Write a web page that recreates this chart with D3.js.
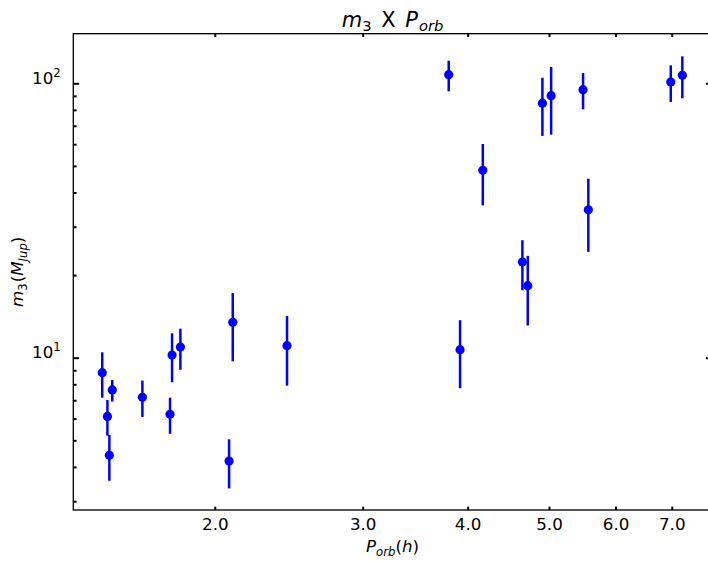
<!DOCTYPE html>
<html>
<head>
<meta charset="utf-8">
<script src="https://cdn.jsdelivr.net/npm/d3@7"></script>
<style>
  body { margin: 0; background: #fff; }
  text { font-family: "DejaVu Sans", sans-serif; fill: #000; }
</style>
</head>
<body>
<div id="chart"></div>
<script>
// orbital period (h) and third-body mass (M_Jup) with lower / upper error limits
const period   = [1.469, 1.510, 1.490, 1.498, 1.640, 1.779, 1.820, 1.769, 2.101, 2.080, 2.438,
                  3.798, 4.170, 4.910, 5.029, 5.489, 5.569, 4.648, 4.717, 3.918, 6.981, 7.206];
const mass     = [8.82, 7.63, 6.11, 4.41, 7.17, 10.23, 10.94, 6.22, 13.46, 4.20, 11.06,
                  107.5, 48.2, 84.6, 90.1, 94.8, 34.6, 22.3, 18.3, 10.7, 101.1, 106.9];
const massLow  = [7.15, 6.92, 5.20, 3.56, 6.08, 8.14, 9.04, 5.28, 9.70, 3.34, 7.91,
                  93.5, 35.9, 64.3, 65.0, 80.4, 24.3, 17.6, 13.1, 7.74, 85.5, 88.2];
const massHigh = [10.46, 8.29, 7.01, 5.23, 8.25, 12.27, 12.76, 7.15, 17.2, 5.04, 14.19,
                  120.9, 60.1, 104.8, 114.7, 109.0, 44.9, 26.8, 23.5, 13.7, 116.3, 125.4];

const xTicks = [2, 3, 4, 5, 6, 7];
const yMajor = [10, 100];
const yMinor = [3, 4, 5, 6, 7, 8, 9, 20, 30, 40, 50, 60, 70, 80, 90];
const xDomain = [1.357, 7.81];
const yDomain = [2.786, 151.6];

const width = 708, height = 561;
const margin = {top: 33.7, right: -3.7, bottom: 51, left: 73.3};
const fs = 16.7;

const x = d3.scaleLog().domain(xDomain).range([margin.left, width - margin.right]);
const y = d3.scaleLog().domain(yDomain).range([height - margin.bottom, margin.top]);

const svg = d3.select('#chart').append('svg')
    .attr('width', width)
    .attr('height', height);

// write a small piece of "math" text as tspans: {t, it, sub, sup, dx}
function mathText(sel, parts, size) {
    let prev = 0;
    parts.forEach(p => {
        const small = p.sub || p.sup;
        const shift = p.sub ? size * 0.22 : p.sup ? -size * 0.42 : 0;
        sel.append('tspan')
            .attr('font-style', p.it ? 'italic' : null)
            .attr('font-size', small ? size * 0.7 : size)
            .attr('dx', p.dx || null)
            .attr('dy', shift - prev)
            .text(p.t);
        prev = shift;
    });
}

// axes
const xb = svg.append('g')
    .attr('transform', `translate(0,${y.range()[0]})`)
    .call(d3.axisBottom(x).tickValues(xTicks).tickFormat(d3.format('.1f'))
        .tickSizeInner(-3.3).tickSizeOuter(0).tickPadding(8));
xb.selectAll('text').attr('font-size', fs).attr('font-family', null);

svg.append('g')
    .attr('transform', `translate(0,${y.range()[1]})`)
    .call(d3.axisTop(x).tickValues(xTicks).tickFormat('').tickSizeInner(-3.3).tickSizeOuter(0));

const yl = svg.append('g')
    .attr('transform', `translate(${x.range()[0]},0)`)
    .call(d3.axisLeft(y).tickValues(yMajor).tickFormat('').tickSizeInner(-5.8).tickSizeOuter(0).tickPadding(12.6));
yl.selectAll('text')
    .attr('font-size', fs).attr('font-family', null).attr('dy', '0.44em')
    .each(function (d) {
        mathText(d3.select(this), [{t: '10'}, {t: String(Math.round(Math.log10(d))), sup: true}], fs);
    });
svg.append('g')
    .attr('transform', `translate(${x.range()[0]},0)`)
    .call(d3.axisLeft(y).tickValues(yMinor).tickFormat('').tickSizeInner(-3.3).tickSizeOuter(0));

svg.append('g')
    .attr('transform', `translate(${x.range()[1]},0)`)
    .call(d3.axisRight(y).tickValues(yMajor).tickFormat('').tickSizeInner(-5.8).tickSizeOuter(0));
svg.append('g')
    .attr('transform', `translate(${x.range()[1]},0)`)
    .call(d3.axisRight(y).tickValues(yMinor).tickFormat('').tickSizeInner(-3.3).tickSizeOuter(0));

svg.selectAll('.domain').remove();
svg.selectAll('.tick line').attr('stroke', '#000').attr('stroke-width', 2);

// frame
svg.append('rect')
    .attr('x', x.range()[0]).attr('y', y.range()[1])
    .attr('width', x.range()[1] - x.range()[0])
    .attr('height', y.range()[0] - y.range()[1])
    .attr('fill', 'none').attr('stroke', '#000').attr('stroke-width', 1.33);

// error bars and points
const idx = d3.range(period.length);
svg.append('g')
    .selectAll('line')
    .data(idx)
    .join('line')
    .attr('x1', i => x(period[i]))
    .attr('x2', i => x(period[i]))
    .attr('y1', i => y(massLow[i]))
    .attr('y2', i => y(massHigh[i]))
    .attr('stroke', '#0000ff')
    .attr('stroke-width', 2.5);

svg.append('g')
    .selectAll('circle')
    .data(idx)
    .join('circle')
    .attr('cx', i => x(period[i]))
    .attr('cy', i => y(mass[i]))
    .attr('r', 4.6)
    .attr('fill', '#0000ff');

// labels
const cx = (x.range()[0] + x.range()[1]) / 2;
const cy = (y.range()[0] + y.range()[1]) / 2;

const title = svg.append('text').attr('x', cx).attr('y', 26.5).attr('text-anchor', 'middle');
mathText(title, [{t: 'm', it: true}, {t: '3', sub: true}, {t: ' X', dx: 3}, {t: ' '},
    {t: 'P', it: true, dx: 3}, {t: 'orb', it: true, sub: true, dx: 1}], 21);

const xlab = svg.append('text').attr('x', cx).attr('y', 552).attr('text-anchor', 'middle');
mathText(xlab, [{t: 'P', it: true}, {t: 'orb', it: true, sub: true}, {t: '('}, {t: 'h', it: true}, {t: ')'}], fs);

const ylab = svg.append('text')
    .attr('transform', `translate(23,${cy}) rotate(-90)`)
    .attr('text-anchor', 'middle');
mathText(ylab, [{t: 'm', it: true}, {t: '3', sub: true}, {t: '(', dx: 1}, {t: 'M', it: true},
    {t: 'Jup', it: true, sub: true}, {t: ')'}], fs);
</script>
</body>
</html>
